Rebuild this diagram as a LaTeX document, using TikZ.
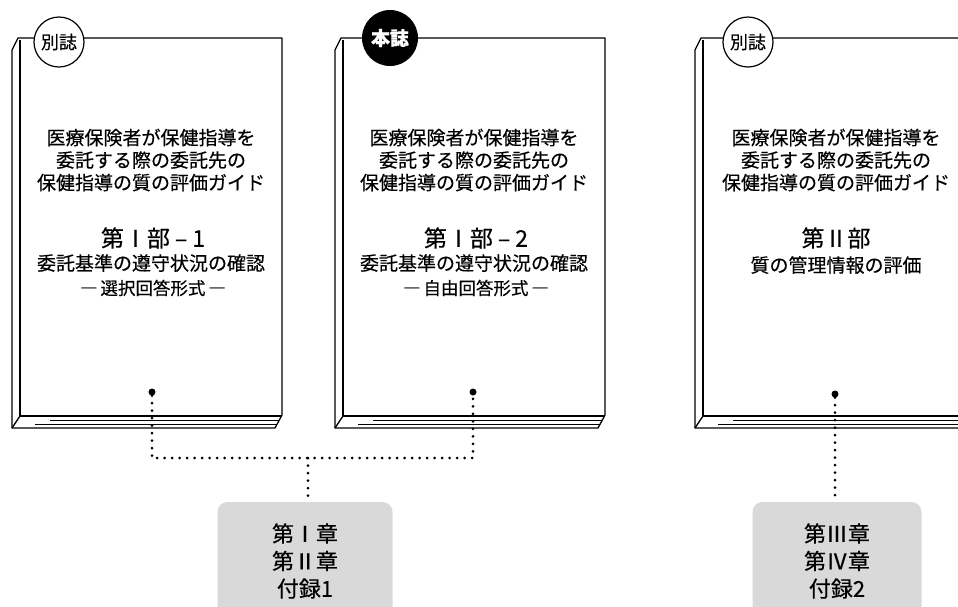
\documentclass[tikz,border=0pt]{standalone}
\usepackage{fontspec}
\setmainfont{Noto Sans CJK JP}[FakeBold=0.4]
\newcommand\drawbook[2]{%
  \draw[bookline] (#1-2,38) -- (#2,38) -- (#2,415) -- (#2-7,428) -- (#1-8,428) -- (#1-8,50) -- cycle;
  \draw[bookline] (#1,40) -- (#1,416) -- (#2-1,416);
  \draw[bookline] (#1-8,428) -- (#1,416);
  \draw[pageline] (#1+30,420) -- (#2-3,420);
  \draw[pageline] (#1+15,424) -- (#2-5,424);
}
\newcommand\pdash{\hspace{5pt}–\hspace{5pt}}
\begin{document}
\begin{tikzpicture}[x=1pt,y=-1pt,
  bookline/.style={line width=1.3pt,line join=round},
  pageline/.style={line width=0.7pt},
  tagw/.style={circle,draw,line width=1.2pt,fill=white,minimum size=50pt,inner sep=0pt,font=\fontsize{18}{18}\selectfont},
  tagb/.style={circle,fill=black,text=white,minimum size=56pt,inner sep=0pt,font=\fontsize{19}{19}\selectfont\bfseries},
  titletext/.style={align=center,font=\fontsize{19}{22.5}\selectfont,inner sep=0pt},
  parttext/.style={font=\fontsize{23}{23}\selectfont,inner sep=0pt},
  subtext/.style={font=\fontsize{19}{19}\selectfont,inner sep=0pt},
  formtext/.style={font=\fontsize{17.5}{17.5}\selectfont,inner sep=0pt},
  chapbox/.style={rounded corners=10pt,fill=black!15,align=center,minimum width=175pt,minimum height=118pt,inner sep=0pt,font=\fontsize{22}{27.5}\selectfont},
  dotline/.style={line width=3pt,line cap=round,dash pattern=on 0pt off 7.5pt},
  enddot/.style={circle,fill=black,minimum size=7pt,inner sep=0pt}]
\useasboundingbox (0,0) rectangle (958,606);
\clip (0,0) rectangle (958,606);
\fill[white] (0,0) rectangle (958,606);
% books
\drawbook{20}{282}
\drawbook{343}{605}
\drawbook{703}{967}
% tags
\node[tagw] (tag1) at (59,42) {別誌};
\node[tagb] (tag2) at (390,38) {本誌};
\node[tagw] (tag3) at (748,42) {別誌};
% book 1 texts
\node[titletext] (t1) at (151,160) {医療保険者が保健指導を\\委託する際の委託先の\\保健指導の質の評価ガイド};
\node[parttext] (p1) at (153,238) {第Ⅰ部\pdash 1};
\node[subtext] (s1) at (151,263) {委託基準の遵守状況の確認};
\node[formtext] (f1) at (153,288) {―\,選択回答形式\,―};
% book 2 texts
\node[titletext] (t2) at (474,160) {医療保険者が保健指導を\\委託する際の委託先の\\保健指導の質の評価ガイド};
\node[parttext] (p2) at (476,238) {第Ⅰ部\pdash 2};
\node[subtext] (s2) at (474,263) {委託基準の遵守状況の確認};
\node[formtext] (f2) at (476,288) {―\,自由回答形式\,―};
% book 3 texts
\node[titletext] (t3) at (836,160) {医療保険者が保健指導を\\委託する際の委託先の\\保健指導の質の評価ガイド};
\node[parttext] (p3) at (836,238) {第Ⅱ部};
\node[subtext] (s3) at (836,265) {質の管理情報の評価};
% chapter boxes
\node[chapbox] (c1) at (305,561) {第Ⅰ章\\第Ⅱ章\\付録1};
\node[chapbox,minimum width=169pt] (c2) at (837,561) {第Ⅲ章\\第Ⅳ章\\付録2};
% connectors
\node[enddot] (d1) at (152,392) {};
\node[enddot] (d2) at (473,392) {};
\node[enddot] (d3) at (835,394) {};
\coordinate (j) at (308,458);
\draw[dotline] (d1) |- (j) -| (d2);
\draw[dotline] (j) -- (j |- c1.north);
\draw[dotline] (d3) -- (d3 |- c2.north);
\end{tikzpicture}
\end{document}
